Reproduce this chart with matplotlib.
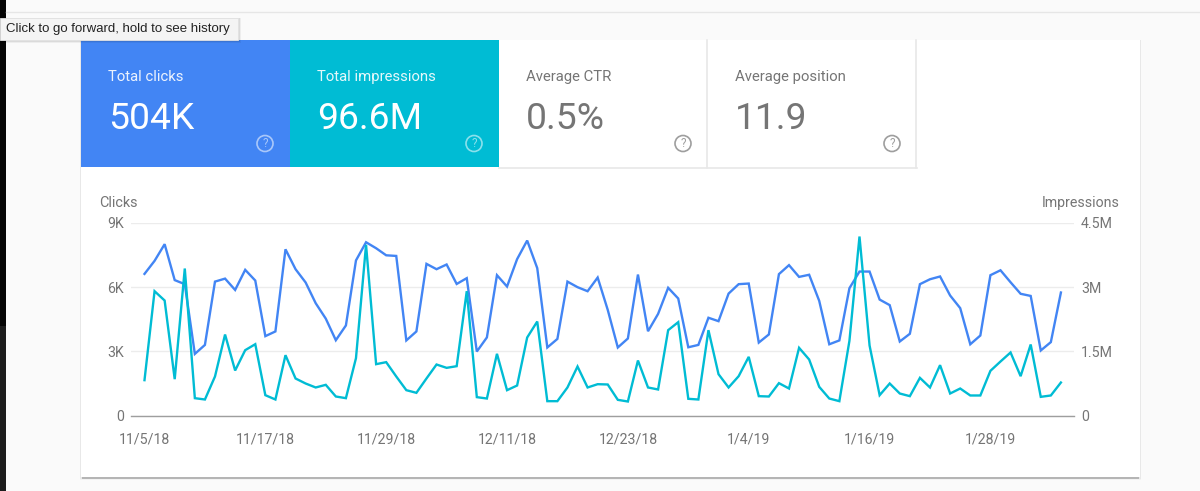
import matplotlib
matplotlib.use("Agg")
import matplotlib.pyplot as plt
from matplotlib.patches import Rectangle, Circle
import pandas as pd

plt.rcParams['font.family'] = ['Roboto', 'DejaVu Sans']

# clics por dia
clicks = [6620, 7230, 8010, 6330, 6140, 2880, 3300, 6260, 6400, 5870, 6810, 6310,
          3710, 3930, 7770, 6840, 6220, 5250, 4530, 3520, 4210, 7250, 8100, 7820,
          7490, 7460, 3510, 3930, 7090, 6840, 7060, 6150, 6420, 2990, 3650, 6560,
          6030, 7310, 8180, 6890, 3180, 3580, 6260, 6000, 5810, 6450, 4940, 3180,
          3600, 6590, 3940, 4750, 5970, 5470, 3190, 3300, 4570, 4410, 5700, 6140,
          6170, 3410, 3790, 6610, 7030, 6480, 6580, 5360, 3330, 3510, 5950, 6730,
          6730, 5420, 5160, 3460, 3820, 6140, 6370, 6500, 5610, 5020, 3330, 3740,
          6560, 6790, 6230, 5690, 5590, 3040, 3430, 5750]

# impresiones por dia, en millones
impressions = [0.826, 2.906, 2.688, 0.849, 3.436, 0.405, 0.374, 0.912, 1.893, 1.052,
               1.527, 1.667, 0.475, 0.374, 1.410, 0.865, 0.748, 0.655, 0.717, 0.444,
               0.405, 1.340, 3.990, 1.200, 1.247, 0.912, 0.592, 0.530, 0.865, 1.192,
               1.114, 1.153, 2.906, 0.429, 0.397, 1.442, 0.592, 0.701, 1.823, 2.197,
               0.335, 0.335, 0.655, 1.145, 0.655, 0.732, 0.725, 0.366, 0.327, 1.286,
               0.655, 0.608, 1.995, 2.182, 0.390, 0.374, 1.995, 0.966, 0.655, 0.919,
               1.371, 0.452, 0.444, 0.756, 0.631, 1.582, 1.309, 0.670, 0.397, 0.335,
               1.745, 4.184, 1.636, 0.475, 0.748, 0.514, 0.452, 0.880, 0.655, 1.177,
               0.514, 0.631, 0.468, 0.468, 1.044, 1.262, 1.473, 0.919, 1.660, 0.436,
               0.468, 0.771]

fechas = pd.date_range("2018-11-05", periods=len(clicks))
x_labels = ["11/5/18", "11/17/18", "11/29/18", "12/11/18", "12/23/18", "1/4/19", "1/16/19", "1/28/19"]
y_left = [0, 3000, 6000, 9000]
y_left_labels = ["0", "3K", "6K", "9K"]
y_right = [0, 1.5, 3, 4.5]
y_right_labels = ["0", "1.5M", "3M", "4.5M"]

titulos = ["Total clicks", "Total impressions", "Average CTR", "Average position"]
totales = ["504K", "96.6M", "0.5%", "11.9"]

AZUL = "#4285f4"
TURQUESA = "#00bcd4"
GRIS = "#757575"
BORDE = "#e8e8e8"

fig = plt.figure(figsize=(12, 4.91), dpi=100, facecolor="#fafafa")

# capa de fondo en pixeles, con el origen arriba a la izquierda
bg = fig.add_axes([0, 0, 1, 1])
bg.set_xlim(0, 1200)
bg.set_ylim(491, 0)
bg.axis("off")

bg.add_patch(Rectangle((0, 0), 5.5, 326, fc="#050505", ec="none"))
bg.add_patch(Rectangle((0, 326), 5.5, 165, fc="#1c1c1c", ec="none"))
bg.plot([6, 1200], [11.5, 11.5], color="#e6e6e6", lw=1)

# sombra y tarjeta
for d, alpha in [(2.5, 0.03), (1.5, 0.04)]:
    bg.add_patch(Rectangle((81 - d * 0.5, 39.5), 1059 + d, 437.5 + d, fc="black", alpha=alpha, ec="none"))
bg.add_patch(Rectangle((82, 477), 1057, 1.5, fc="black", alpha=0.22, ec="none"))
bg.add_patch(Rectangle((81, 40), 1059, 437, fc="white", ec="none"))

# bloques de arriba
for i in range(4):
    x0 = 81 + i * 209
    if i == 0:
        bg.add_patch(Rectangle((x0, 40), 209, 127, fc=AZUL, ec="none"))
    elif i == 1:
        bg.add_patch(Rectangle((x0, 40), 209, 127, fc=TURQUESA, ec="none"))
    else:
        bg.plot([x0 + 208, x0 + 208], [40, 167.5], color=BORDE, lw=1.2)
    color = "white" if i < 2 else GRIS
    icono = "white" if i < 2 else "#9e9e9e"
    bg.text(x0 + 27, 77, titulos[i], color=color, alpha=0.9 if i < 2 else 1, fontsize=10.7, va="center", ha="left")
    bg.text(x0 + 27, 118.5, totales[i], color=color, fontsize=26.8, va="center", ha="left")
    # icono de ayuda
    bg.add_patch(Circle((x0 + 184, 143.5), 8, fc="none", ec=icono, alpha=0.55 if i < 2 else 1, lw=1.2))
    bg.text(x0 + 184, 143.5, "?", color=icono, alpha=0.55 if i < 2 else 1, fontsize=8.5, va="center", ha="center")
bg.plot([499, 916.5], [167.5, 167.5], color=BORDE, lw=1.2)

# tooltip del navegador
for d, alpha in [(3, 0.05), (1.5, 0.08)]:
    bg.add_patch(Rectangle((0, 18), 238 + d, 22 + d, fc="black", alpha=alpha, ec="none"))
bg.add_patch(Rectangle((0, 18), 238, 22, fc="#f4f4f4", ec="#e2e2e2", lw=0.6))
bg.text(6, 29, "Click to go forward, hold to see history", color="#222222", fontsize=9.55,
        family=["Liberation Sans", "DejaVu Sans"], va="center", ha="left")

bg.text(99, 203, "Clicks", color=GRIS, fontsize=10.4, va="center", ha="left")
bg.text(1120, 203, "Impressions", color=GRIS, fontsize=10.2, va="center", ha="right")

# grafico principal
ax = fig.add_axes([131 / 1200, 1 - 415.5 / 491, (1074 - 131) / 1200, (415.5 - 223) / 491])
ax.patch.set_alpha(0)
ax2 = ax.twinx()

ax.plot(fechas, clicks, color=AZUL, lw=1.7, zorder=3, solid_joinstyle="miter")
ax2.plot(fechas, impressions, color=TURQUESA, lw=1.7, zorder=3, solid_joinstyle="miter")

ax.set_xlim(fechas[0] - pd.Timedelta(days=1.34), fechas[0] + pd.Timedelta(days=92.3))
ax.set_ylim(0, 9000)
ax2.set_ylim(0, 4.5)

ax.set_xticks(fechas[::12][:len(x_labels)])
ax.set_xticklabels(x_labels)
ax.set_yticks(y_left)
ax.set_yticklabels(y_left_labels)
ax2.set_yticks(y_right)
ax2.set_yticklabels(y_right_labels)

ax.grid(True, axis="y", color="#ececec", lw=1)
ax.set_axisbelow(True)

for a in (ax, ax2):
    for lado in a.spines:
        a.spines[lado].set_visible(False)
    a.tick_params(length=0, labelcolor=GRIS, labelsize=10.2)
ax.spines["bottom"].set_visible(True)
ax.spines["bottom"].set_color("#9e9e9e")
ax.spines["bottom"].set_linewidth(1)
ax.tick_params(axis="x", pad=12)
ax.tick_params(axis="y", pad=5)
ax2.tick_params(axis="y", pad=5)

fig.savefig("out.png", dpi=100, facecolor=fig.get_facecolor())
